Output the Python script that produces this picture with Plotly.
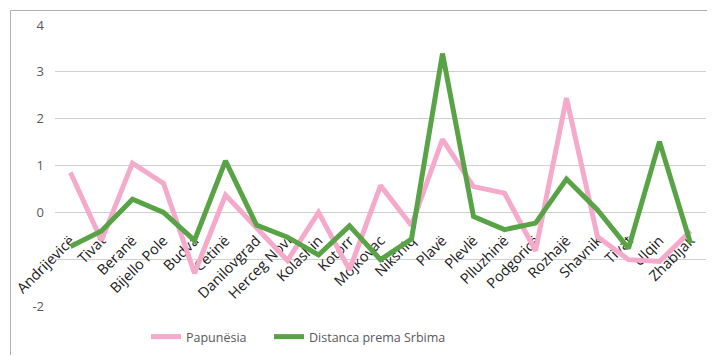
import plotly.graph_objects as go

categories = ["Andrijevicë", "Tivat", "Beranë", "Bijello Pole", "Budva", "Cetinë",
              "Danilovgrad", "Herceg Novi", "Kolashin", "Kotorr", "Mojkovac", "Nikshiq",
              "Plavë", "Plevlë", "Plluzhinë", "Podgoricë", "Rozhajë", "Shavnik",
              "Tivat", "Ulqin", "Zhabljak"]
papunesia = [0.85, -0.60, 1.05, 0.62, -1.30, 0.37, -0.33, -1.03, 0.0, -1.23, 0.57, -0.28,
             1.56, 0.55, 0.41, -0.82, 2.44, -0.52, -1.01, -1.05, -0.40]
distanca = [-0.73, -0.40, 0.28, 0.0, -0.60, 1.10, -0.27, -0.53, -0.91, -0.29, -1.01, -0.57,
            3.39, -0.09, -0.37, -0.23, 0.71, 0.05, -0.77, 1.51, -0.66]
y_ticks = [-2, -1, 0, 1, 2, 3, 4]
y_ticktext = ["-2", "", "0", "1", "2", "3", "4"]
y_range = [-2, 4]

x = list(range(len(categories)))
FONT = "Open Sans, Noto Sans, sans-serif"

fig = go.Figure()
fig.add_trace(go.Scatter(x=x, y=papunesia, mode="lines", name="Papunësia", showlegend=True,
                         line=dict(color="#F5A9CB", width=5), legend="legend"))
fig.add_trace(go.Scatter(x=x, y=distanca, mode="lines", name="Distanca prema Srbima",
                         showlegend=True,
                         line=dict(color="#58A346", width=5), legend="legend2"))

# page has an 8px body margin; figure coordinates = page coordinates - 8
OFF = 8
W, H = 715 - OFF, 356 - OFF
L, T = 55 - OFF, 25 - OFF
R = W - (706 - OFF)
B = H - (306 - OFF)
pw = W - L - R
ph = H - T - B

def px_x(p):
    return (p - OFF - L) / pw

def px_y(p):
    return (H - B - (p - OFF)) / ph

legend_common = dict(orientation="h", yanchor="middle", xanchor="left", visible=True,
                     font=dict(family=FONT, size=12.5, color="#595959"),
                     bgcolor="rgba(0,0,0,0)")

# x axis crosses the y axis at value 0
zero_pos = (0 - y_range[0]) / (y_range[1] - y_range[0])

border = dict(color="#B0B0B0", width=1)

fig.update_layout(
    width=W, height=H, showlegend=True,
    margin=dict(l=L, r=R, t=T, b=B, autoexpand=False),
    paper_bgcolor="white", plot_bgcolor="white",
    font=dict(family=FONT, size=13, color="#595959"),
    xaxis=dict(range=[-0.5, len(categories) - 0.5], tickvals=x, ticktext=categories,
               tickangle=-45, anchor="free", position=zero_pos, side="bottom",
               layer="below traces", automargin=False,
               showgrid=False, zeroline=False, showline=False, ticks="",
               ticklabelstandoff=16,
               tickfont=dict(family=FONT, size=14.5, color="#1a1a1a")),
    yaxis=dict(range=y_range, tickvals=y_ticks, ticktext=y_ticktext, showgrid=True,
               gridcolor="#D0D0D0", gridwidth=1, zeroline=False, showline=False,
               ticks="", ticklabelstandoff=10, automargin=False,
               tickfont=dict(family=FONT, size=13, color="#595959")),
    legend=dict(x=px_x(146), y=px_y(337), **legend_common),
    legend2=dict(x=px_x(269), y=px_y(337), **legend_common),
    shapes=[
        dict(type="line", xref="paper", yref="paper", layer="above",
             x0=px_x(10.5), x1=px_x(10.5), y0=px_y(355), y1=px_y(10.5), line=border),
        dict(type="line", xref="paper", yref="paper", layer="above",
             x0=px_x(10.5), x1=px_x(714), y0=px_y(10.5), y1=px_y(10.5), line=border),
    ],
)

fig.write_html("out.html")
